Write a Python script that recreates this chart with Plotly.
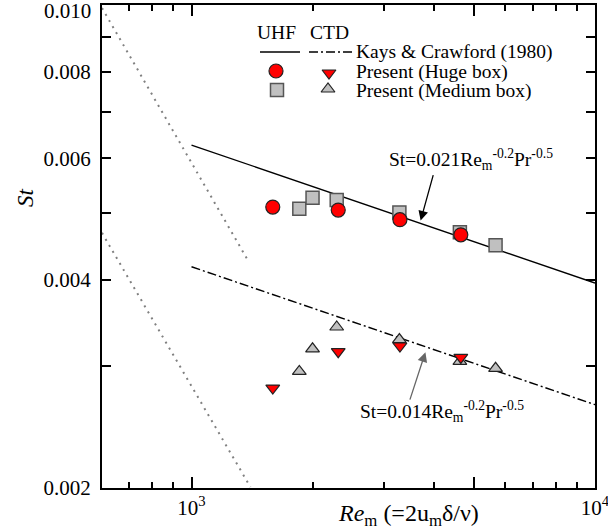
import math
import plotly.graph_objects as go

# ---------------- data ----------------
huge_re = [1590, 2310, 3285, 4650]
huge_uhf_st = [0.00510, 0.00505, 0.00489, 0.00465]
huge_ctd_st = [0.00279, 0.00315, 0.00321, 0.00309]

medium_re = [1850, 1995, 2290, 3275, 4625, 5670]
medium_uhf_st = [0.00507, 0.00526, 0.00522, 0.00501, 0.00469, 0.00449]
medium_ctd_st = [0.00295, 0.00318, 0.00342, 0.00328, 0.00305, 0.00298]

kc_re = [1000, 10000]
kc_uhf_st = [0.00627, 0.00396]
kc_ctd_st = [0.00418, 0.00264]

lam_upper_re = [600, 1380]
lam_upper_st = [0.0099, 0.00427]
lam_lower_re = [600, 1400]
lam_lower_st = [0.00468, 0.002006]

y_tickvals = [0.002, 0.003, 0.004, 0.005, 0.006, 0.007, 0.008, 0.009, 0.010]
y_ticktext = ["0.002", "", "0.004", "", "0.006", "", "0.008", "", ""]
y_top_label = "0.010"
x_major = [1000, 5000, 10000]
x_major_text = ["10<sup>3</sup>", "", "10<sup>4</sup>"]
x_minor = [600, 700, 800, 900, 2000, 3000, 4000, 6000, 7000, 8000, 9000]

FONT = "Liberation Serif"
RED = "#ff0000"
GRAY = "#c0c0c0"

fig = go.Figure()

# laminar-type dotted lines
for xs, ys in [(lam_upper_re, lam_upper_st), (lam_lower_re, lam_lower_st)]:
    fig.add_trace(go.Scatter(x=xs, y=ys, mode="lines",
                             line=dict(color="#808080", width=2, dash="2px,5px"),
                             showlegend=False, hoverinfo="skip"))

# Kays & Crawford
fig.add_trace(go.Scatter(x=kc_re, y=kc_uhf_st, mode="lines",
                         line=dict(color="black", width=1.4), showlegend=False))
fig.add_trace(go.Scatter(x=kc_re, y=kc_ctd_st, mode="lines",
                         line=dict(color="black", width=1.4, dash="9px,3px,2px,3px"),
                         showlegend=False))

# Medium box
fig.add_trace(go.Scatter(x=medium_re, y=medium_uhf_st, mode="markers",
                         marker=dict(symbol="square", size=13, color=GRAY,
                                     line=dict(color="#555555", width=1.5)),
                         showlegend=False))
fig.add_trace(go.Scatter(x=medium_re, y=medium_ctd_st, mode="markers",
                         marker=dict(symbol="triangle-up", size=12, color=GRAY,
                                     line=dict(color="#222222", width=1.2)),
                         showlegend=False))
# Huge box
fig.add_trace(go.Scatter(x=huge_re, y=huge_uhf_st, mode="markers",
                         marker=dict(symbol="circle", size=14, color=RED,
                                     line=dict(color="#222222", width=1.2)),
                         showlegend=False))
fig.add_trace(go.Scatter(x=huge_re, y=huge_ctd_st, mode="markers",
                         marker=dict(symbol="triangle-down", size=12, color=RED,
                                     line=dict(color="#222222", width=1.2)),
                         showlegend=False))

# ---------- legend drawn on a helper overlay axis (pixel-like coordinates) ----------
leg = dict(xaxis="x2", yaxis="y2", showlegend=False, hoverinfo="skip", cliponaxis=False)
fig.add_trace(go.Scatter(x=[260, 300], y=[52, 52], mode="lines",
                         line=dict(color="black", width=1.4), **leg))
fig.add_trace(go.Scatter(x=[309, 353], y=[52, 52], mode="lines",
                         line=dict(color="black", width=1.4, dash="9px,3px,2px,3px"), **leg))
fig.add_trace(go.Scatter(x=[276], y=[71], mode="markers",
                         marker=dict(symbol="circle", size=14, color=RED,
                                     line=dict(color="#222222", width=1.2)), **leg))
fig.add_trace(go.Scatter(x=[329], y=[73], mode="markers",
                         marker=dict(symbol="triangle-down", size=12, color=RED,
                                     line=dict(color="#222222", width=1.2)), **leg))
fig.add_trace(go.Scatter(x=[277], y=[90], mode="markers",
                         marker=dict(symbol="square", size=13, color=GRAY,
                                     line=dict(color="#555555", width=1.5)), **leg))
fig.add_trace(go.Scatter(x=[328], y=[89], mode="markers",
                         marker=dict(symbol="triangle-up", size=12, color=GRAY,
                                     line=dict(color="#222222", width=1.2)), **leg))

annotations = []
def txt(x, y, s, size=19.5, xanchor="center", ref="2", **kw):
    d = dict(x=x, y=y, text=s, showarrow=False, xanchor=xanchor, yanchor="middle",
             font=dict(family=FONT, size=size, color="black"))
    if ref == "2":
        d.update(xref="x2", yref="y2")
    else:
        d.update(xref="paper", yref="paper")
    d.update(kw)
    annotations.append(d)

txt(276, 32, "UHF")
txt(329, 32, "CTD")
txt(354, 52, "Kays &amp; Crawford (1980)", xanchor="left")
txt(354, 72, "Present (Huge box)", xanchor="left")
txt(354, 91, "Present (Medium box)", xanchor="left")

txt(471, 159, "St=0.021Re<sub>m</sub><sup>-0.2</sup>Pr<sup>-0.5</sup>", size=19.5)
txt(442, 411, "St=0.014Re<sub>m</sub><sup>-0.2</sup>Pr<sup>-0.5</sup>", size=19.5)

# top y tick label (kept inside the page like the reference)
txt((93 - 102) / 493, (488 - 11) / 483, y_top_label, size=21, xanchor="right",
    ref="paper")

# arrows
annotations.append(dict(x=math.log10(3697), y=math.log10(0.004875), xref="x", yref="y",
                        text="", showarrow=True, ax=13, ay=-47, arrowhead=2,
                        arrowsize=1.5, arrowwidth=1.3, arrowcolor="black", standoff=0))
annotations.append(dict(x=math.log10(3800), y=math.log10(0.003145), xref="x", yref="y",
                        text="", showarrow=True, ax=-16, ay=49, arrowhead=2,
                        arrowsize=1.5, arrowwidth=1.3, arrowcolor="#666666", standoff=0))

# axis titles
txt((408 - 102) / 493, (488 - 515) / 483,
    "<i>Re</i><sub>m</sub> (=2u<sub>m</sub>δ/ν)", size=24, ref="paper")
txt((25 - 102) / 493, (488 - 198) / 483, "<i>St</i>", size=23, ref="paper",
    textangle=-90)

fig.update_layout(
    width=608, height=531,
    margin=dict(l=102, r=13, t=5, b=43, autoexpand=False),
    paper_bgcolor="white", plot_bgcolor="white",
    font=dict(family=FONT, size=21, color="black"),
    showlegend=False,
    annotations=annotations,
    xaxis=dict(type="log", range=[math.log10(600), 4], automargin=False,
               tickmode="array", tickvals=x_major, ticktext=x_major_text,
               ticks="inside", ticklen=11, tickwidth=1.5, tickcolor="black",
               minor=dict(tickmode="array", tickvals=x_minor, ticks="inside",
                          ticklen=6, tickwidth=1.5, tickcolor="black"),
               showline=True, linecolor="black", linewidth=2, mirror="allticks",
               showgrid=False, zeroline=False, ticklabeloverflow="allow",
               tickfont=dict(family=FONT, size=21, color="black")),
    yaxis=dict(type="log", range=[math.log10(0.002), -2], automargin=False,
               tickmode="array", tickvals=y_tickvals, ticktext=y_ticktext,
               ticks="inside", ticklen=9, tickwidth=1.5, tickcolor="black",
               showline=True, linecolor="black", linewidth=2, mirror="allticks",
               showgrid=False, zeroline=False, ticklabeloverflow="allow",
               ticklabelstandoff=5,
               tickfont=dict(family=FONT, size=21, color="black")),
    xaxis2=dict(overlaying="x", range=[102, 595], visible=False, anchor="y2"),
    yaxis2=dict(overlaying="y", range=[488, 5], visible=False, anchor="x2"),
)

fig.write_html("out.html", post_script="document.body.style.margin='0';",
               config={"displayModeBar": False})
